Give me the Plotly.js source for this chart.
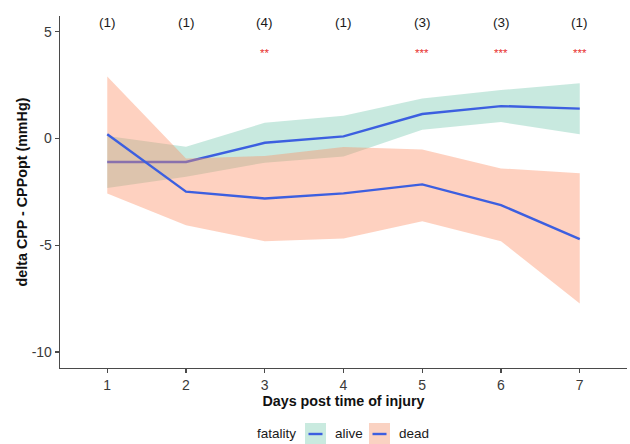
<!DOCTYPE html>
<html>
<head>
<meta charset="utf-8">
<script src="https://cdn.plot.ly/plotly-3.0.1.min.js"></script>
<style>html,body{margin:0;padding:0;background:#fff;}#chart{width:630px;height:444px;}</style>
</head>
<body>
<div id="chart"></div>
<script>
const days = [1, 2, 3, 4, 5, 6, 7];
const aliveMean  = [-1.10, -1.10, -0.20, 0.10, 1.15, 1.52, 1.40];
const aliveUpper = [0.12, -0.38, 0.74, 1.07, 1.88, 2.27, 2.59];
const aliveLower = [-2.32, -1.79, -1.13, -0.84, 0.41, 0.77, 0.20];
const deadMean   = [0.20, -2.49, -2.81, -2.57, -2.15, -3.12, -4.71];
const deadUpper  = [2.90, -0.93, -0.82, -0.40, -0.51, -1.40, -1.63];
const deadLower  = [-2.57, -4.06, -4.81, -4.68, -3.87, -4.81, -7.73];
const counts = ["(1)", "(1)", "(4)", "(1)", "(3)", "(3)", "(1)"];
const stars  = ["", "", "**", "", "***", "***", "***"];
const yTicks = [-10, -5, 0, 5];
const legendItems = ["alive", "dead"];

const countY = 5.43, starY = 4.02;
const lineColor = "#3c5fe0";
const fills = {alive: "rgba(102,194,165,0.36)", dead: "rgba(252,141,98,0.40)"};
const keyFills = {alive: "rgb(201,234,223)", dead: "rgb(250,210,194)"};
const FONT = "Liberation Sans, Arial, sans-serif";

const traces = [
  {x: days, y: aliveLower, mode: "lines", line: {width: 0}, hoverinfo: "skip", showlegend: false},
  {x: days, y: aliveUpper, mode: "lines", line: {width: 0}, fill: "tonexty", fillcolor: fills.alive, showlegend: false},
  {x: days, y: aliveMean, mode: "lines", line: {color: lineColor, width: 2.4}, showlegend: false},
  {x: days, y: deadLower, mode: "lines", line: {width: 0}, hoverinfo: "skip", showlegend: false},
  {x: days, y: deadUpper, mode: "lines", line: {width: 0}, fill: "tonexty", fillcolor: fills.dead, showlegend: false},
  {x: days, y: deadMean, mode: "lines", line: {color: lineColor, width: 2.4}, showlegend: false}
];

const annotations = [];
days.forEach((d, i) => {
  annotations.push({x: d, y: countY, xref: "x", yref: "y", text: counts[i], showarrow: false,
    font: {family: FONT, size: 13.5, color: "#1a1a1a"}});
  if (stars[i]) annotations.push({x: d, y: starY, xref: "x", yref: "y", text: stars[i], showarrow: false,
    font: {family: FONT, size: 11.5, color: "#e8312f"}});
});

// Legend (bottom, ggplot-style)
const pw = 567, ph = 352, L = 60, T = 16;
const px = p => (p - L) / pw;
const py = q => (T + ph - q) / ph;
const shapes = [];
const keyX = {alive: 305, dead: 369};
const textX = {alive: 333, dead: 397};
legendItems.forEach(k => {
  shapes.push({type: "rect", xref: "paper", yref: "paper", x0: px(keyX[k]), x1: px(keyX[k] + 21),
    y0: py(444), y1: py(423), fillcolor: keyFills[k], line: {width: 0}});
  shapes.push({type: "line", xref: "paper", yref: "paper", x0: px(keyX[k] + 3.5), x1: px(keyX[k] + 17.5),
    y0: py(434), y1: py(434), line: {color: lineColor, width: 2.4}});
  annotations.push({xref: "paper", yref: "paper", x: px(textX[k]), y: py(433.5), xanchor: "left", yanchor: "middle",
    text: k, showarrow: false, font: {family: FONT, size: 13.5, color: "#1a1a1a"}});
});
annotations.push({xref: "paper", yref: "paper", x: px(298), y: py(433.5), xanchor: "right", yanchor: "middle",
  text: "fatality", showarrow: false, font: {family: FONT, size: 13.5, color: "#1a1a1a"}});

const layout = {
  width: 630, height: 444,
  margin: {l: L, r: 3, t: T, b: 76},
  paper_bgcolor: "#fff", plot_bgcolor: "#fff",
  showlegend: false,
  font: {family: FONT, size: 13, color: "#4d4d4d"},
  xaxis: {
    range: [0.4, 7.6], tickvals: days, ticktext: days.map(String),
    showgrid: false, zeroline: false, showline: true, linecolor: "#4a4a4a", linewidth: 1.3,
    ticks: "outside", ticklen: 4, tickcolor: "#4a4a4a", tickwidth: 1.1,
    tickfont: {size: 14, color: "#3a3a3a"},
    title: {text: "<b>Days post time of injury</b>", font: {size: 14.3, color: "#111"}, standoff: 2}
  },
  yaxis: {
    range: [-10.75, 5.74], tickvals: yTicks, ticktext: yTicks.map(String),
    showgrid: false, zeroline: false, showline: true, linecolor: "#4a4a4a", linewidth: 1.3,
    ticks: "outside", ticklen: 4, tickcolor: "#4a4a4a", tickwidth: 1.1,
    tickfont: {size: 14, color: "#3a3a3a"},
    title: {text: "<b>delta CPP - CPPopt (mmHg)</b>", font: {size: 14.3, color: "#111"}, standoff: 0}
  },
  shapes: shapes,
  annotations: annotations
};

Plotly.newPlot("chart", traces, layout, {displayModeBar: false, staticPlot: true});
</script>
</body>
</html>
